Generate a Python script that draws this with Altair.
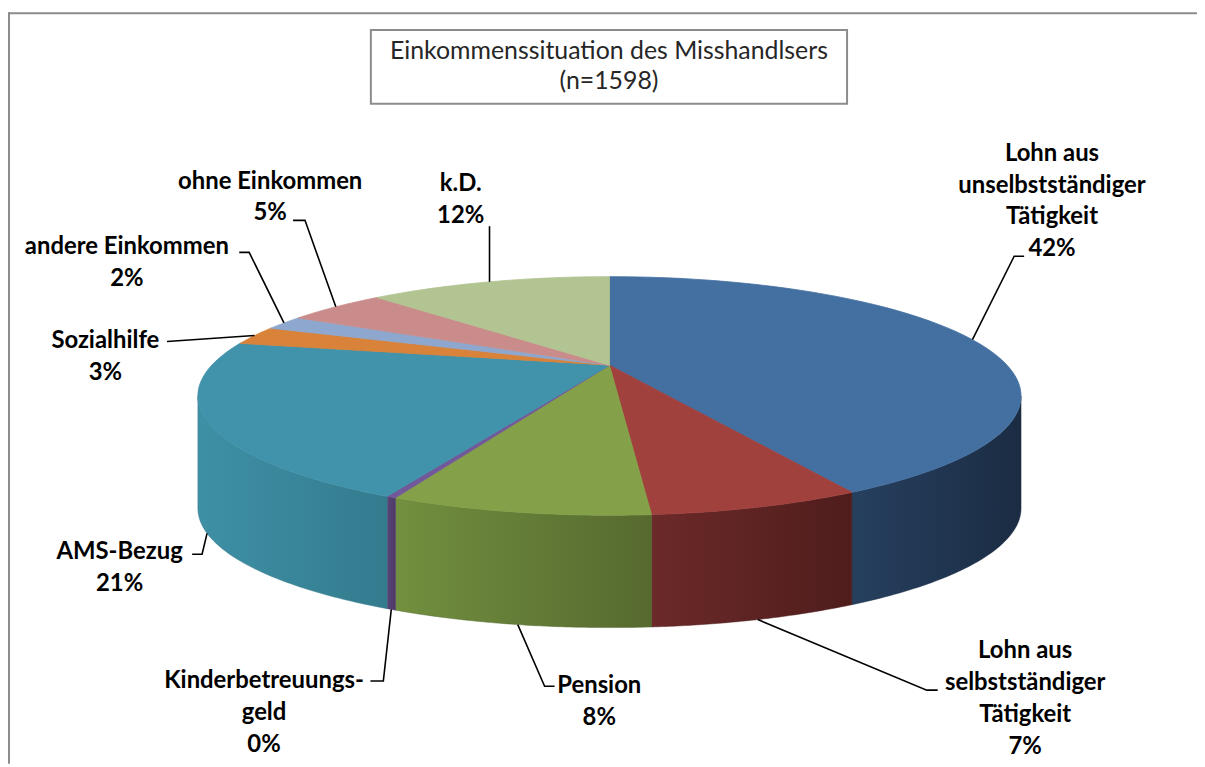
import math
import altair as alt
import pandas as pd

# ---------------- data ----------------
categories = [
    "Lohn aus unselbstständiger Tätigkeit",
    "Lohn aus selbstständiger Tätigkeit",
    "Pension",
    "Kinderbetreuungsgeld",
    "AMS-Bezug",
    "Sozialhilfe",
    "andere Einkommen",
    "ohne Einkommen",
    "k.D.",
]
shares = [42.2, 6.55, 8.0, 0.3, 21.25, 2.6, 2.0, 4.9, 12.2]
label_lines = [
    "Lohn aus\nunselbstständiger\nTätigkeit",
    "Lohn aus\nselbstständiger\nTätigkeit",
    "Pension",
    "Kinderbetreuungs-\ngeld",
    "AMS-Bezug",
    "Sozialhilfe",
    "andere Einkommen",
    "ohne Einkommen",
    "k.D.",
]
title_lines = "Einkommenssituation des Misshandlsers\n(n=1598)"

# ---------------- styles ----------------
top_colors = ["#4470A1", "#A0413E", "#84A048", "#71589A", "#4093AA",
              "#D8823A", "#8EA7CE", "#C98C8B", "#B2C491"]
wall_left = ["#26405F", "#6B2A29", "#72903F", "#5A4478", "#3E90A5",
             "#A8652D", "#6E82A0", "#9C6C6B", "#8A9870"]
wall_right = ["#1B2C43", "#4F1D1C", "#56692F", "#4E3A68", "#347B8E",
              "#8A5225", "#5A6B84", "#805858", "#717D5C"]

# label layout: offsets (px) relative to each slice's computed anchor point
elbow_dx = [42, 170, 27, -8, -5, -88, -35, -31, 0]
elbow_dy = [-84, 71, 62, 72, 21, 6, -71, -87, -56]
tick_dx = [10, 11, 10, -13, -10, 0, -10, -12, 0]
text_dx = [80, 269, 82, -128, -88, -150, -158, -66, -29]
text_dy = [-187, 32, 62, 72, 19, 6, -76, -126, -98]   # first text line

# ---------------- geometry (3-D perspective pie) ----------------
W, H = 1196, 756
OX, OY = 8, 10
CX, CY = 613 - OX, 396 - OY      # centre of the visible top ellipse
RX, RY = 414, 120                 # semi axes of the top ellipse
D = -31                           # apex offset (perspective)
DEPTH = 113                       # height of the side wall
N = 60
B = RY
C = D / RY
A = RX * (B - C * D) / math.sqrt(B * B - D * D)
PHI1 = math.acos(D / B)           # visible wall from PHI1 ...
PHI2 = 2 * math.pi - PHI1         # ... to PHI2


def PX(ang):
    return f"({CX} + {A}*sin({ang})/(1 + ({C})*(-cos({ang}))))"


def PY(ang):
    return f"({CY} + ({B}*(-cos({ang})) + ({D}))/(1 + ({C})*(-cos({ang}))))"


df = pd.DataFrame({
    "idx": list(range(len(categories))),
    "category": categories,
    "share": shares,
    "lab": label_lines,
    "top": top_colors,
    "edx": elbow_dx, "edy": elbow_dy, "tdx": tick_dx,
    "tx": text_dx, "ty": text_dy,
})

xs = alt.Scale(domain=[0, W], nice=False, zero=False)
ys = alt.Scale(domain=[0, H], nice=False, zero=False, reverse=True)


def base():
    return (
        alt.Chart(df)
        .transform_window(cum="sum(share)", sort=[alt.SortField("idx")], frame=[None, 0])
        .transform_joinaggregate(total="sum(share)")
        .transform_calculate(
            a0="2*PI*(datum.cum-datum.share)/datum.total",
            a1="2*PI*datum.cum/datum.total",
        )
    )


# side walls
wall_data = (
    base()
    .transform_calculate(b0=f"max(datum.a0,{PHI1})", b1=f"min(datum.a1,{PHI2})")
    .transform_filter("datum.b1 > datum.b0")
    .transform_calculate(k=f"sequence(0,{N + 1})")
    .transform_flatten(["k"])
    .transform_calculate(ang=f"datum.b0+(datum.b1-datum.b0)*datum.k/{N}")
    .transform_calculate(px=PX("datum.ang"), py=PY("datum.ang"))
    .transform_calculate(py2=f"datum.py + {DEPTH}")
)
walls = []
for i in range(len(categories)):
    grad = alt.LinearGradient(
        gradient="linear",
        stops=[alt.GradientStop(color=wall_left[i], offset=0),
               alt.GradientStop(color=wall_right[i], offset=1)],
        x1=0, x2=1, y1=0, y2=0,
    )
    walls.append(
        wall_data.transform_filter(f"datum.idx=={i}")
        .mark_area(color=grad, stroke=wall_right[i], strokeWidth=0.5)
        .encode(
            x=alt.X("px:Q", scale=xs, axis=None),
            y=alt.Y("py:Q", scale=ys, axis=None),
            y2="py2:Q",
        )
    )

# top surface
top = (
    base()
    .transform_calculate(k=f"sequence(0,{N + 3})")
    .transform_flatten(["k"])
    .transform_calculate(ang=f"datum.a0 + (datum.a1-datum.a0)*(datum.k-1)/{N}")
    .transform_calculate(
        px=f"(datum.k==0 || datum.k=={N + 2}) ? {CX} : {PX('datum.ang')}",
        py=f"(datum.k==0 || datum.k=={N + 2}) ? {CY + D} : {PY('datum.ang')}",
    )
    .mark_line(filled=True, strokeWidth=0.8, strokeJoin="round")
    .encode(
        x=alt.X("px:Q", scale=xs, axis=None),
        y=alt.Y("py:Q", scale=ys, axis=None),
        order="k:Q",
        detail="idx:N",
        color=alt.Color("top:N", scale=None),
        stroke=alt.Stroke("top:N", scale=None),
    )
)


def anchored():
    return (
        base()
        .transform_calculate(mid="(datum.a0+datum.a1)/2")
        .transform_calculate(
            ax=PX("datum.mid"),
            ay=f"{PY('datum.mid')} + ((datum.mid > {PHI1} && datum.mid < {PHI2}) ? {DEPTH} : 0)",
        )
    )


leaders = (
    anchored()
    .transform_calculate(k="sequence(0,3)")
    .transform_flatten(["k"])
    .transform_calculate(
        lx="datum.k==0 ? datum.ax : (datum.k==1 ? datum.ax+datum.edx : datum.ax+datum.edx+datum.tdx)",
        ly="datum.k==0 ? datum.ay : datum.ay+datum.edy",
    )
    .mark_line(color="#000000", strokeWidth=1.6)
    .encode(
        x=alt.X("lx:Q", scale=xs, axis=None),
        y=alt.Y("ly:Q", scale=ys, axis=None),
        order="k:Q",
        detail="idx:N",
    )
)

labels = (
    anchored()
    .transform_calculate(
        tx2="datum.ax + datum.tx",
        ty2="datum.ay + datum.ty",
        txt="datum.lab + '\\n' + format(datum.share, '.0f') + '%'",
    )
    .mark_text(font="Lato", fontSize=24, fontWeight="bold", color="#000000",
               align="center", baseline="middle", lineBreak="\n", lineHeight=32)
    .encode(
        x=alt.X("tx2:Q", scale=xs, axis=None),
        y=alt.Y("ty2:Q", scale=ys, axis=None),
        text="txt:N",
    )
)

# title box
tdf = pd.DataFrame({"t": [title_lines]})
title_box = alt.Chart(tdf).mark_rect(fill="white", stroke="#8C8C8C", strokeWidth=2).encode(
    x=alt.value(373 - OX), x2=alt.value(852 - OX),
    y=alt.value(28 - OY), y2=alt.value(102 - OY),
)
title_text = alt.Chart(tdf).mark_text(
    font="Lato", fontSize=25, color="#262626", align="center", baseline="middle",
    lineBreak="\n", lineHeight=30,
).encode(x=alt.value(612.5 - OX), y=alt.value(49 - OY), text="t:N")

# outer frame (left and top edges visible)
fdf = pd.DataFrame({"z": [0]})
frame_left = alt.Chart(fdf).mark_rule(color="#8C8C8C", strokeWidth=2).encode(
    x=alt.value(1), y=alt.value(0), y2=alt.value(H))
frame_top = alt.Chart(fdf).mark_rule(color="#8C8C8C", strokeWidth=2).encode(
    x=alt.value(0), x2=alt.value(W), y=alt.value(1))

chart = alt.layer(
    *walls, top, leaders, labels, title_box, title_text, frame_left, frame_top
).properties(
    width=W, height=H,
    autosize=alt.AutoSizeParams(type="none"),
    padding={"left": 0, "top": 2, "right": 0, "bottom": 0},
    background="white",
).configure_view(stroke=None)

chart.save("out.html", embed_options={"renderer": "svg", "actions": False})
